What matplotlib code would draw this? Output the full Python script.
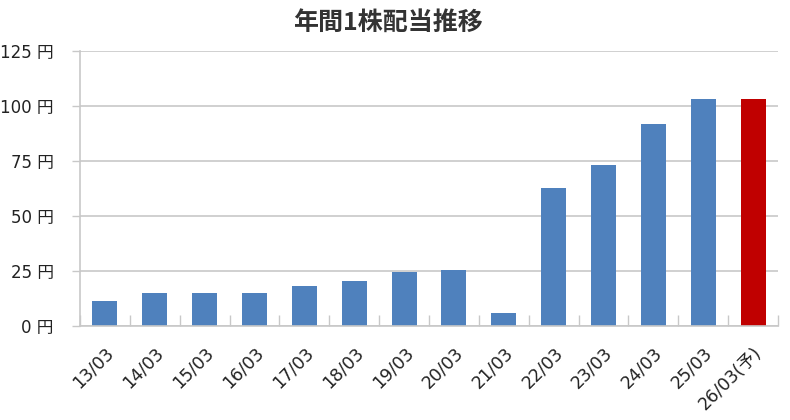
import numpy as np
import matplotlib
matplotlib.use("Agg")
import matplotlib.pyplot as plt

# Verdana-like latin glyphs, CJK falls back to Noto
plt.rcParams['font.family'] = ['DejaVu Sans', 'Noto Sans CJK JP']

# data
periods = ["13/03", "14/03", "15/03", "16/03", "17/03", "18/03", "19/03",
           "20/03", "21/03", "22/03", "23/03", "24/03", "25/03", "26/03(予)"]
dividends = [11.25, 15, 15, 15, 18, 20.25, 24.5, 25.5, 6, 62.5, 73, 91.5, 103, 103]
forecast = [False] * 13 + [True]
y_ticks = [0, 25, 50, 75, 100, 125]

BLUE = "#4F81BD"
RED = "#C00000"
GRID = "#C8C8C8"

fig = plt.figure(figsize=(7.9, 4.2), dpi=100)
ax = fig.add_axes([80 / 790, 94.3 / 420, 698 / 790, 275 / 420])

x = np.arange(len(periods))
colors = [RED if f else BLUE for f in forecast]
ax.bar(x, dividends, width=0.5, color=colors, zorder=3)

ax.set_xlim(-0.5, len(periods) - 0.5)
ax.set_ylim(0, 125)

# y axis: gridlines + yen labels
ax.set_yticks(y_ticks)
ax.set_yticklabels([f"{v} 円" for v in y_ticks], fontsize=12, color="#222222")
ax.tick_params(axis="y", direction="out", length=6, width=1, color=GRID, pad=13)
ax.grid(axis="y", color=GRID, linewidth=1.2, zorder=0)

# x axis: labels at centres, inward ticks at category borders
ax.set_xticks(x)
ax.set_xticklabels(periods, fontsize=12.5, color="#222222", rotation=45,
                   ha="right", va="top", rotation_mode="anchor")
ax.tick_params(axis="x", which="major", length=0, pad=13)
ax.set_xticks(np.arange(-0.5, len(periods), 1), minor=True)
ax.tick_params(axis="x", which="minor", direction="in", length=8, width=1, color=GRID)

for side in ("top", "right"):
    ax.spines[side].set_visible(False)
for side in ("left", "bottom"):
    ax.spines[side].set_color(GRID)
    ax.spines[side].set_linewidth(1.2)
    ax.spines[side].set_zorder(4)

fig.text(388 / 790, 1 - 23 / 420, "年間1株配当推移", fontsize=18, fontweight="bold",
         color="#333333", ha="center", va="center",
         family=["Noto Sans CJK JP", "DejaVu Sans"])

fig.savefig("out.png", dpi=100)
